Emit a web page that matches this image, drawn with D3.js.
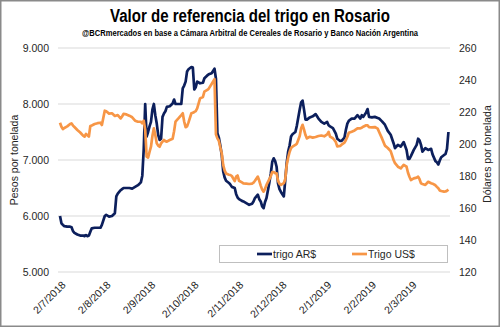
<!DOCTYPE html>
<html><head><meta charset="utf-8">
<script src="https://cdn.jsdelivr.net/npm/d3@7"></script>
<style>body{margin:0;background:#fff}svg{display:block}</style>
</head><body>
<svg id="c" width="500" height="327"></svg>
<script>
const dates = ["2018-07-02","2018-07-03","2018-07-04","2018-07-05","2018-07-07","2018-07-09","2018-07-10","2018-07-11","2018-07-12","2018-07-14","2018-07-16","2018-07-18","2018-07-19","2018-07-20","2018-07-21","2018-07-22","2018-07-23","2018-07-24","2018-07-26","2018-07-28","2018-07-30","2018-07-31",
"2018-08-02","2018-08-03","2018-08-05","2018-08-07","2018-08-09","2018-08-10","2018-08-11","2018-08-13","2018-08-14","2018-08-15","2018-08-17","2018-08-19","2018-08-21","2018-08-23","2018-08-25","2018-08-27","2018-08-28","2018-08-29","2018-08-30","2018-08-31",
"2018-09-01","2018-09-02","2018-09-03","2018-09-04","2018-09-05","2018-09-06","2018-09-07","2018-09-08","2018-09-09","2018-09-10","2018-09-11","2018-09-12","2018-09-13","2018-09-14","2018-09-16","2018-09-18","2018-09-19","2018-09-20","2018-09-22","2018-09-24","2018-09-25","2018-09-26","2018-09-27","2018-09-28","2018-09-29",
"2018-10-01","2018-10-02","2018-10-03","2018-10-04","2018-10-05","2018-10-07","2018-10-09","2018-10-10","2018-10-12","2018-10-13","2018-10-15","2018-10-17","2018-10-18","2018-10-19","2018-10-20","2018-10-21","2018-10-22","2018-10-23","2018-10-24","2018-10-25","2018-10-27","2018-10-28","2018-10-29","2018-10-31",
"2018-11-01","2018-11-02","2018-11-03","2018-11-05","2018-11-06","2018-11-08","2018-11-10","2018-11-12","2018-11-13","2018-11-14","2018-11-16","2018-11-17","2018-11-18","2018-11-19","2018-11-20","2018-11-21","2018-11-22","2018-11-24","2018-11-25","2018-11-26","2018-11-27","2018-11-28","2018-11-29","2018-11-30",
"2018-12-01","2018-12-02","2018-12-04","2018-12-05","2018-12-06","2018-12-07","2018-12-08","2018-12-09","2018-12-10","2018-12-12","2018-12-13","2018-12-15","2018-12-16","2018-12-17","2018-12-18","2018-12-19","2018-12-20","2018-12-22","2018-12-24","2018-12-26","2018-12-28","2018-12-30",
"2019-01-01","2019-01-03","2019-01-04","2019-01-05","2019-01-07","2019-01-08","2019-01-09","2019-01-10","2019-01-12","2019-01-13","2019-01-15","2019-01-16","2019-01-17","2019-01-18","2019-01-20","2019-01-22","2019-01-24","2019-01-26","2019-01-27","2019-01-28","2019-01-30","2019-01-31",
"2019-02-01","2019-02-03","2019-02-05","2019-02-07","2019-02-08","2019-02-10","2019-02-12","2019-02-14","2019-02-16","2019-02-18","2019-02-19","2019-02-21","2019-02-23","2019-02-25","2019-02-27","2019-02-28",
"2019-03-01","2019-03-02","2019-03-04","2019-03-06","2019-03-07","2019-03-08","2019-03-09","2019-03-10","2019-03-12","2019-03-14","2019-03-16","2019-03-17","2019-03-19","2019-03-20","2019-03-21","2019-03-22","2019-03-23","2019-03-25","2019-03-26","2019-03-27","2019-03-28"];

const trigoARS = [6000,5870,5840,5820,5810,5810,5800,5730,5700,5670,5650,5650,5640,5660,5640,5650,5720,5780,5790,5790,5790,5840,
6000,6020,5990,6000,6050,6350,6400,6460,6480,6500,6500,6500,6490,6520,6550,6600,6720,7200,8000,7420,
7500,7600,7680,7900,8000,7800,7650,7450,7360,7380,7770,7830,7870,7950,7960,8010,8080,8000,8000,8000,8280,8330,8400,8580,8620,
8660,8650,8260,8300,8400,8370,8380,8460,8510,8530,8550,8630,8450,7480,7400,7260,7090,6800,6690,6630,6590,6560,6520,6500,
6390,6330,6300,6270,6260,6230,6200,6220,6260,6320,6380,6300,6260,6170,6140,6250,6320,6600,6760,6970,7030,6980,6880,6580,6480,
6430,6350,6640,6950,7150,7260,7420,7460,7500,7610,7900,8030,8060,7900,7720,7720,7760,7780,7820,7740,7680,
7650,7680,7620,7600,7570,7520,7470,7380,7340,7340,7400,7540,7650,7700,7740,7740,7800,7740,7800,7770,7850,7910,
7770,7760,7770,7750,7740,7690,7630,7520,7450,7300,7210,7270,7240,7320,7180,7020,
7020,7070,7180,7270,7380,7350,7270,7150,7210,7180,7200,7100,6980,6960,6920,6990,7050,7090,7110,7200,7500];

const trigoUSD = [213.3,210.8,209.3,210,211,212.5,212.9,211.5,210.6,208.8,207.2,205.2,204.6,206.3,205.5,204.6,211.3,211.6,212.5,213,213.3,211.9,
220.8,220.5,219,219.2,217.5,217.8,218.1,216,217.2,218.8,218.5,217.7,216.7,214.6,213.9,213.9,212.9,214.6,208.8,192.1,
191.5,195,198.3,205,209.8,205.6,200.4,199,198.3,200.4,201.5,202.5,201.8,201.5,202.5,203.3,208,214,216,218.1,219.2,214,210.5,211,213.5,
219.2,219.5,220,220.6,222.3,228.5,229.4,232.7,233.8,234.6,237.5,240.5,206,203.5,202,198,194.2,187,183.5,181.5,180.8,180.6,180,176.8,
179.6,180.3,177,176,175.4,175.2,175,175.2,175.8,177,179.6,177,174,171.5,170.2,172,174.4,178,180,182.5,182.5,181.8,181.7,177,175.2,
174.4,175.5,178,186.9,191.5,195,197.5,198.3,199.4,200.2,205,209.8,212,209,205.6,203.5,204.5,204,204.4,205,205.3,
204.8,206,207.5,204.6,203.6,202.5,201.2,198.5,198.8,199.6,200.8,202.5,204.5,207,207.7,208.5,209.8,209.8,210.2,210.8,211.7,211.6,
210.5,210.4,210.6,209.6,207.5,203.5,199,197.5,195.5,190,188,185.8,184.8,187,185.8,182,
179.5,177.5,178.5,179,179.6,178,175.4,175,174.4,176.4,175.5,175.2,174.2,173.2,172.3,171,170.6,170.2,170.3,170.8,171.5];

const tickDates = ["2018-07-02","2018-08-02","2018-09-02","2018-10-02","2018-11-02","2018-12-02","2019-01-02","2019-02-02","2019-03-02"];
const tickLabels = ["2/7/2018","2/8/2018","2/9/2018","2/10/2018","2/11/2018","2/12/2018","2/1/2019","2/2/2019","2/3/2019"];
const leftTicks = [5000,6000,7000,8000,9000];
const rightTicks = [120,140,160,180,200,220,240,260];
const seriesNames = ["trigo AR$","Trigo US$"];

const parse = d3.timeParse("%Y-%m-%d");
const svg = d3.select("#c");
const W = 500, H = 327;
const navy = "#0c1f5c", orange = "#f79646";
const font = "'Liberation Sans', Arial, sans-serif";

svg.append("rect").attr("x",0.75).attr("y",0.75).attr("width",W-1.5).attr("height",H-1.5)
  .attr("fill","#fff").attr("stroke","#8a8a8a").attr("stroke-width",1.5);

const x = d3.scaleTime().domain([new Date(2018,5,30,14,45), new Date(2019,2,29,2)]).range([58,450]);
const yL = d3.scaleLinear().domain([5000,9000]).range([272,48]);
const yR = d3.scaleLinear().domain([120,260]).range([272,48]);

// gridlines
svg.append("g").selectAll("line").data(leftTicks).join("line")
  .attr("x1",58).attr("x2",450).attr("y1",d=>yL(d)).attr("y2",d=>yL(d))
  .attr("stroke","#d9d9d9").attr("stroke-width",1);

const fmt = d => d3.format(",")(d).replace(/,/g,".");
const gl = svg.append("g").attr("transform","translate(49,0)")
  .call(d3.axisLeft(yL).tickValues(leftTicks).tickFormat(fmt).tickSize(0).tickPadding(0));
gl.select(".domain").remove();
gl.selectAll("text").attr("font-family",font).attr("font-size",10.5).attr("fill","#262626");

const gr = svg.append("g").attr("transform","translate(459,0)")
  .call(d3.axisRight(yR).tickValues(rightTicks).tickSize(0).tickPadding(0));
gr.select(".domain").remove();
gr.selectAll("text").attr("font-family",font).attr("font-size",10.5).attr("fill","#262626");

// x axis labels
const gx = svg.append("g").attr("transform","translate(0,272)")
  .call(d3.axisBottom(x).tickValues(tickDates.map(parse)).tickSize(0)
    .tickFormat((d,i)=>tickLabels[i]));
gx.select(".domain").remove();
gx.selectAll("text").attr("font-family",font).attr("font-size",10.5).attr("fill","#262626")
  .attr("text-anchor","end").attr("dy",0).attr("y",0)
  .attr("transform","translate(6,13.5) rotate(-45)");

// lines
const ptsA = dates.map((d,i)=>({d:parse(d),v:trigoARS[i]}));
const ptsU = dates.map((d,i)=>({d:parse(d),v:trigoUSD[i]}));
svg.append("path").datum(ptsA)
  .attr("d", d3.line().x(p=>x(p.d)).y(p=>yL(p.v)))
  .attr("fill","none").attr("stroke",navy).attr("stroke-width",2.7).attr("stroke-linejoin","round");
svg.append("path").datum(ptsU)
  .attr("d", d3.line().x(p=>x(p.d)).y(p=>yR(p.v)))
  .attr("fill","none").attr("stroke",orange).attr("stroke-width",2.7).attr("stroke-linejoin","round");

// titles
svg.append("text").attr("x",250).attr("y",22).attr("text-anchor","middle")
  .attr("font-family","'Liberation Sans Narrow','Liberation Sans',Arial,sans-serif").attr("font-weight","bold")
  .attr("font-size",17.5).attr("fill","#000")
  .attr("textLength",280).attr("lengthAdjust","spacingAndGlyphs")
  .text("Valor de referencia del trigo en Rosario");
svg.append("text").attr("x",250).attr("y",35.5).attr("text-anchor","middle")
  .attr("font-family","'Liberation Sans Narrow','Liberation Sans',Arial,sans-serif").attr("font-weight","bold")
  .attr("font-size",8.8).attr("fill","#000")
  .attr("textLength",336).attr("lengthAdjust","spacingAndGlyphs")
  .text("@BCRmercados en base a Cámara Arbitral de Cereales de Rosario y Banco Nación  Argentina");

svg.append("text").attr("transform","translate(18,160) rotate(-90)").attr("text-anchor","middle")
  .attr("font-family",font).attr("font-size",10.5).attr("fill","#262626").text("Pesos por tonelada");
svg.append("text").attr("transform","translate(491,154) rotate(-90)").attr("text-anchor","middle")
  .attr("font-family",font).attr("font-size",10.5).attr("fill","#262626").text("Dólares por tonelada");

// legend
const lg = svg.append("g");
lg.append("rect").attr("x",219.5).attr("y",245.5).attr("width",228).attr("height",17)
  .attr("fill","#fff").attr("stroke","#bfbfbf").attr("stroke-width",1);
const items = [{n:seriesNames[0],c:navy,x:257},{n:seriesNames[1],c:orange,x:352}];
items.forEach(it=>{
  lg.append("line").attr("x1",it.x).attr("x2",it.x+15).attr("y1",254).attr("y2",254)
    .attr("stroke",it.c).attr("stroke-width",2.7);
  lg.append("text").attr("x",it.x+16).attr("y",254).attr("dy","0.35em")
    .attr("font-family",font).attr("font-size",10.5).attr("fill","#262626").text(it.n);
});
</script>
</body></html>
